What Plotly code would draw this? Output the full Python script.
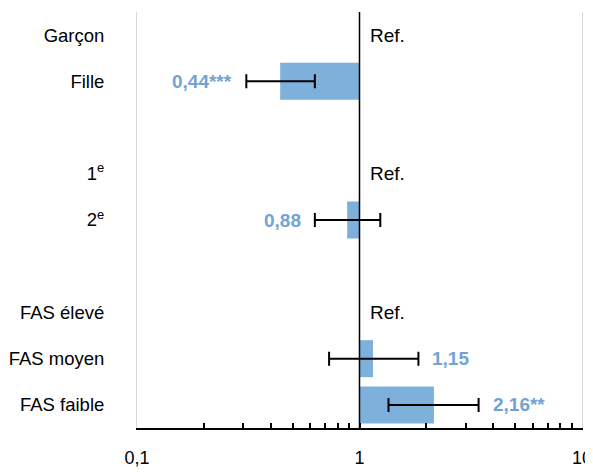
import numpy as np
import plotly.graph_objects as go

# rows from top to bottom, "" = empty spacer row
categories = ["Garçon", "Fille", "", "1<sup>e</sup>", "2<sup>e</sup>", "",
              "FAS élevé", "FAS moyen", "FAS faible"]
odds = [None, 0.44, None, None, 0.88, None, None, 1.15, 2.16]
ci_low = [None, 0.31, None, None, 0.63, None, None, 0.73, 1.35]
ci_high = [None, 0.63, None, None, 1.24, None, None, 1.84, 3.43]
signif = ["", "***", "", "", "", "", "", "", "**"]
ref_rows = ["Garçon", "1<sup>e</sup>", "FAS élevé"]

bar_col = "#7eb0dc"
lab_col = "#72a3d5"
font = "Liberation Sans, Arial"
fsize = 19

pos = list(range(len(categories)))
idx = [i for i, v in enumerate(odds) if v is not None]

fig = go.Figure()

fig.add_trace(go.Bar(
    y=[pos[i] for i in idx],
    x=[odds[i] - 1 for i in idx],
    base=1,
    orientation="h",
    width=0.8,
    marker=dict(color=bar_col, line=dict(width=0)),
    hoverinfo="skip",
))

fig.add_trace(go.Scatter(
    y=[pos[i] for i in idx],
    x=[odds[i] for i in idx],
    mode="markers",
    marker=dict(size=1, opacity=0),
    error_x=dict(
        type="data", symmetric=False,
        array=[ci_high[i] - odds[i] for i in idx],
        arrayminus=[odds[i] - ci_low[i] for i in idx],
        color="black", thickness=2, width=7,
    ),
    hoverinfo="skip",
))

# reference line at 1
fig.add_trace(go.Scatter(
    x=[1, 1], y=[-0.5, len(categories) - 0.5], mode="lines",
    line=dict(color="black", width=1.5), hoverinfo="skip",
))

# Ref. labels
for r in ref_rows:
    fig.add_annotation(x=0, y=categories.index(r), text="Ref.",
                       xanchor="left", xshift=8, showarrow=False,
                       font=dict(family=font, size=fsize, color="black"))

# value labels next to the error bars
for i in idx:
    txt = f"{odds[i]:.2f}".replace(".", ",") + signif[i]
    if odds[i] < 1:
        fig.add_annotation(x=np.log10(ci_low[i]), y=pos[i], text=f"<b>{txt}</b>",
                           xanchor="right", xshift=-12, showarrow=False,
                           font=dict(family=font, size=fsize, color=lab_col))
    else:
        fig.add_annotation(x=np.log10(ci_high[i]), y=pos[i], text=f"<b>{txt}</b>",
                           xanchor="left", xshift=12, showarrow=False,
                           font=dict(family=font, size=fsize, color=lab_col))

# page body has an 8px margin, so the figure sits 8px in from the window corner
fig.update_layout(
    width=593, height=473,
    margin=dict(l=129, r=19, t=4, b=53),
    plot_bgcolor="white", paper_bgcolor="white",
    showlegend=False,
    font=dict(family=font, size=fsize, color="black"),
    xaxis=dict(
        type="log", range=[-1, 1],
        tickvals=[0.1, 1, 10], ticktext=["0,1", "1", "10"],
        tickfont=dict(size=18),
        ticks="inside", ticklen=5, tickwidth=1.5, tickcolor="black",
        minor=dict(ticks="inside", ticklen=5, tickwidth=1.5, tickcolor="black",
                   dtick="D1", showgrid=False),
        showgrid=False, zeroline=False,
        showline=True, linecolor="black", linewidth=2,
        ticklabelstandoff=12, automargin=False,
    ),
    yaxis=dict(
        range=[len(categories) - 0.5, -0.5],
        tickvals=pos, ticktext=categories,
        tickfont=dict(size=18.5),
        showgrid=False, zeroline=False,
        showline=True, mirror=True, linecolor="#d9d9d9", linewidth=1,
        ticks="", ticklabelstandoff=28, automargin=False,
    ),
)

fig.write_html("out.html")
